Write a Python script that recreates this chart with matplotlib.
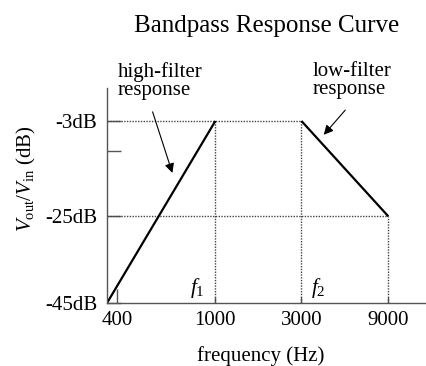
import matplotlib
matplotlib.use("Agg")
import matplotlib.pyplot as plt

plt.rcParams['font.family'] = ['Liberation Serif', 'DejaVu Serif']
plt.rcParams['mathtext.fontset'] = 'custom'
plt.rcParams['mathtext.rm'] = 'Liberation Serif'
plt.rcParams['mathtext.it'] = 'Liberation Serif:italic'

# frequency ticks and where they sit along the (non-uniform) x axis
tick_freqs = ['400', '1000', '3000', '9000']
tick_pos = [0.0, 1.14, 2.14, 3.15]

# corner points of the bandpass response (x in axis units, y in dB)
curve_x = [-0.12, 1.14, 2.14, 3.15]
curve_db = [-45, -3, -3, -25]

db_ticks = [-45, -25, -10, -3]
db_labels = ['-45dB', '-25dB', '', '-3dB']

fig = plt.figure(figsize=(4.27, 3.66), dpi=100)
ax = fig.add_axes([107 / 427, 1 - 303 / 366, 320 / 427, 215 / 366])

x_lo, x_hi = -0.12, 3.6
y_lo, y_hi = -45, 4.6
ax.set_xlim(x_lo, x_hi)
ax.set_ylim(y_lo, y_hi)

guide = dict(color='#444444', lw=1.0, linestyle=(0, (1, 1)))
# dotted guide lines
ax.plot([x_lo, curve_x[2]], [curve_db[1], curve_db[2]], **guide)
ax.plot([curve_x[1], curve_x[1]], [y_lo, curve_db[1]], **guide)
ax.plot([curve_x[2], curve_x[2]], [y_lo, curve_db[2]], **guide)
ax.plot([x_lo, curve_x[3]], [curve_db[3], curve_db[3]], **guide)
ax.plot([curve_x[3], curve_x[3]], [y_lo, curve_db[3]], **guide)

# roll-off slopes
ax.plot(curve_x[:2], curve_db[:2], color='black', lw=1.6, solid_capstyle='butt')
ax.plot(curve_x[2:], curve_db[2:], color='black', lw=1.6, solid_capstyle='butt')

for s in ['top', 'right']:
    ax.spines[s].set_visible(False)
for s in ['left', 'bottom']:
    ax.spines[s].set_color('#555555')
    ax.spines[s].set_linewidth(1.0)

ax.set_xticks(tick_pos)
ax.set_xticklabels(tick_freqs)
ax.set_yticks(db_ticks)
ax.set_yticklabels(db_labels)
ax.tick_params(axis='x', direction='in', length=4, width=1, color='#555555',
               labelsize=15, pad=6)
ax.tick_params(axis='y', direction='in', length=10, width=1, color='#555555',
               labelsize=15, pad=7)
ax.get_xticklines()[0].set_markersize(10)

ax.set_xlabel('frequency (Hz)', fontsize=15)
ax.xaxis.set_label_coords(0.48, -0.20)
ax.set_ylabel(r'$V_{\rm out}/V_{\rm in}$ (dB)', fontsize=15)
ax.yaxis.set_label_coords(-0.215, 0.58)

ax.set_title('Bandpass Response Curve', fontsize=18, pad=40)

ax.text(0.85, -42.7, r'$f_1$', fontsize=15.5)
ax.text(2.25, -42.7, r'$f_2$', fontsize=15.5)

arrow = dict(arrowstyle='-|>', color='black', lw=0.8, mutation_scale=14,
             shrinkA=0, shrinkB=0)
ax.text(0.0, 10.6, 'high-filter\nresponse', fontsize=15, va='top',
        linespacing=0.95, clip_on=False)
ax.annotate('', xy=(0.64, -15.0), xytext=(0.41, -0.9),
            arrowprops=arrow, annotation_clip=False)
ax.text(2.27, 10.6, 'low-filter\nresponse', fontsize=15, va='top',
        linespacing=0.95, clip_on=False)
ax.annotate('', xy=(2.40, -6.2), xytext=(2.65, -0.5),
            arrowprops=arrow, annotation_clip=False)

fig.savefig('out.png', dpi=100)
